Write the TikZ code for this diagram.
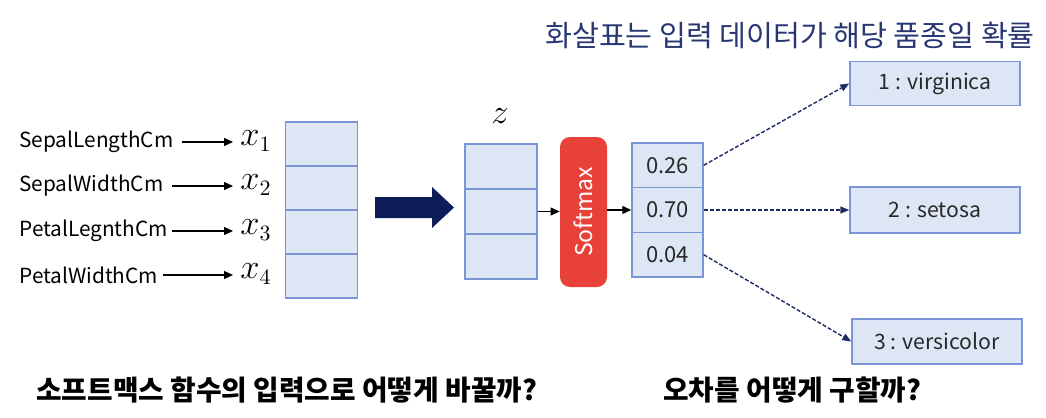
\documentclass[tikz,border=0pt]{standalone}
\usepackage{fontspec}
\setmainfont{Noto Sans CJK KR}
\usetikzlibrary{arrows.meta}
\definecolor{cellfill}{RGB}{220,230,244}
\definecolor{celldraw}{RGB}{122,150,214}
\definecolor{navy}{RGB}{30,42,100}
\definecolor{bignavy}{RGB}{14,28,88}
\definecolor{titlenavy}{RGB}{40,55,115}
\definecolor{smred}{RGB}{232,65,58}
\definecolor{txt}{RGB}{40,40,40}
\tikzset{
  cell/.style={draw=celldraw, fill=cellfill, line width=0.7pt, inner sep=0pt, minimum width=36pt, font=\fontsize{11}{13}\selectfont, text=txt},
  cls/.style={cell, minimum width=85pt, minimum height=22pt, font=\fontsize{10.6}{13}\selectfont},
  lab/.style={anchor=west, inner xsep=1pt, inner ysep=1pt, font=\fontsize{10.4}{12}\selectfont, text=black},
  xv/.style={anchor=west, inner ysep=0pt, inner xsep=3.5pt, font=\fontsize{16}{18}\selectfont},
  blk/.style={-{Triangle[length=4.5pt,width=4pt]}, line width=0.6pt, black},
  dsh/.style={-{Triangle[length=4.5pt,width=3.5pt]}, line width=0.7pt, navy, dash pattern=on 2pt off 1pt},
  ktext/.style={inner sep=0pt, font=\fontsize{13.9}{15}\selectfont\bfseries, text=black}
}
\begin{document}
\begin{tikzpicture}[x=0.5pt,y=-0.5pt]
\useasboundingbox (0,0) rectangle (1046,418);
% title
\node[inner sep=0pt, anchor=west, font=\fontsize{14.6}{16}\selectfont, text=titlenavy] (title) at (545,35) {화살표는 입력 데이터가 해당 품종일 확률};
% input vector
\node[cell, minimum height=22pt] (i1) at (321.5,144) {};
\node[cell, minimum height=22pt] (i2) at (321.5,188) {};
\node[cell, minimum height=22pt] (i3) at (321.5,232) {};
\node[cell, minimum height=22pt] (i4) at (321.5,276) {};
% x labels
\node[xv] (x1) at (233,141) {$x_1$};
\node[xv] (x2) at (233,185) {$x_2$};
\node[xv] (x3) at (233,230) {$x_3$};
\node[xv] (x4) at (233,274) {$x_4$};
% feature labels
\node[lab] (f1) at (17,142) {SepalLengthCm};
\node[lab] (f2) at (17,186) {SepalWidthCm};
\node[lab] (f3) at (17,231) {PetalLegnthCm};
\node[lab] (f4) at (17,275) {PetalWidthCm};
\draw[blk] ([xshift=3pt]f1.east) -- (x1.west |- f1.east);
\draw[blk] ([xshift=3pt]f2.east) -- (x2.west |- f2.east);
\draw[blk] ([xshift=1pt]f3.east) -- (x3.west |- f3.east);
\draw[blk] ([xshift=1pt]f4.east) -- (x4.west |- f4.east);
% big arrow
\fill[bignavy] (375,197) -- (432,197) -- (432,187) -- (454,207.5) -- (432,228) -- (432,218) -- (375,218) -- cycle;
% z vector
\node[inner sep=0pt, font=\fontsize{16}{18}\selectfont] (zl) at (500,116) {$z$};
\node[cell, minimum height=22.5pt] (z1) at (501,166.5) {};
\node[cell, minimum height=22.5pt] (z2) at (501,211.5) {};
\node[cell, minimum height=22.5pt] (z3) at (501,256.5) {};
% softmax
\node[fill=smred, rounded corners=5pt, minimum width=23.5pt, minimum height=75pt, inner sep=0pt] (sm) at (583.5,212) {};
\node[rotate=90, text=white, font=\fontsize{11.5}{13}\selectfont] (smt) at (sm.center) {Softmax};
% output vector
\node[cell, minimum width=35.5pt, minimum height=22.33pt] (o1) at (667.5,165.3) {0.26};
\node[cell, minimum width=35.5pt, minimum height=22.33pt] (o2) at (667.5,210) {0.70};
\node[cell, minimum width=35.5pt, minimum height=22.33pt] (o3) at (667.5,254.7) {0.04};
\draw[blk] (z2.east) -- (sm.west |- z2.east);
\draw[blk] (sm.east |- o2.west) -- (o2.west);
% classes
\node[cls] (c1) at (935,83.5) {1 : virginica};
\node[cls, minimum height=23pt] (c2) at (935,210) {2 : setosa};
\node[cls, minimum height=22.5pt] (c3) at (937,341.5) {3 : versicolor};
\draw[dsh] (o1.east) -- (c1.west);
\draw[dsh] (o2.east) -- (c2.west);
\draw[dsh] (o3.east) -- (c3.west);
% bottom questions
\node[ktext, anchor=west] (q1) at (36,390) {소프트맥스 함수의 입력으로 어떻게 바꿀까?};
\node[ktext, anchor=west] (q2) at (663,390) {오차를 어떻게 구할까?};
\end{tikzpicture}
\end{document}
